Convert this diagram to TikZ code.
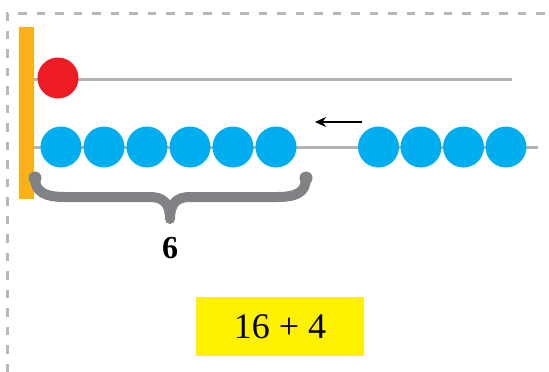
\documentclass[tikz,border=0pt]{standalone}
\usepackage{fontspec}
\setmainfont{Liberation Serif}
\definecolor{barorange}{HTML}{FCB018}
\definecolor{beadred}{HTML}{ED1C24}
\definecolor{beadblue}{HTML}{00AEEF}
\definecolor{wiregray}{HTML}{B3B4B7}
\definecolor{bracegray}{HTML}{808285}
\definecolor{boxyellow}{HTML}{FFF200}
\definecolor{framegray}{HTML}{B5B7BA}
\tikzset{
  bead/.style={circle, inner sep=0pt, minimum size=41pt, draw=none},
  bluebead/.style={bead, fill=beadblue},
  redbead/.style={bead, fill=beadred},
  wire/.style={draw=wiregray, line width=3pt},
  frame/.style={draw=framegray, line width=3pt, dash pattern=on 8.5pt off 10pt},
  bracestyle/.style={draw=bracegray, line width=10pt, line cap=round, line join=round},
  sumbox/.style={fill=boxyellow, minimum width=168pt, minimum height=59pt, inner sep=0pt, font=\fontsize{36}{36}\selectfont},
  countlabel/.style={font=\fontsize{32}{32}\selectfont\bfseries, inner sep=0pt},
  pusharrow/.style={-{Stealth[length=11pt,width=10pt]}, line width=2.2pt, black}
}
\usetikzlibrary{arrows.meta}
\begin{document}
\begin{tikzpicture}[x=1pt,y=-1pt]
\useasboundingbox (0,0) rectangle (549,372);
% dashed frame
\draw[frame] (7,372) -- (7,13) -- (549,13);
% wires
\coordinate (w1s) at (34,79);
\coordinate (w1e) at (512,79);
\coordinate (w2s) at (34,147);
\coordinate (w2e) at (538,147);
\draw[wire] (w1s) -- (w1e);
\draw[wire] (w2s) -- (w2e);
% bar
\node[fill=barorange, minimum width=15pt, minimum height=172pt, inner sep=0pt] (bar) at (26.5,113) {};
% red bead
\node[redbead] (r1) at (58,78) {};
% blue beads left
\foreach \i/\x in {1/61,2/104,3/147,4/190,5/233,6/276}{
  \node[bluebead] (b\i) at (\x,147) {};
}
% blue beads right
\foreach \i/\x in {7/378.5,8/421,9/463.5,10/506}{
  \node[bluebead] (b\i) at (\x,147) {};
}
% arrow
\coordinate (as) at (362,122);
\coordinate (ae) at (315,122);
\draw[pusharrow] (as) -- (ae);
% brace
\draw[bracestyle] (35,178) .. controls (35,192) and (45,197) .. (65,197) -- (150,197)
  .. controls (163,197) and (170,203) .. (170,219)
  .. controls (170,203) and (177,197) .. (190,197) -- (277,197)
  .. controls (297,197) and (306,192) .. (306,178);
\fill[bracegray] (35,178) circle (6.5pt) (306,178) circle (6.5pt);
\node[countlabel] (six) at (170,248.5) {6};
% sum box
\node[sumbox] (sum) at (280,326.5) {16 + 4};
\end{tikzpicture}
\end{document}
